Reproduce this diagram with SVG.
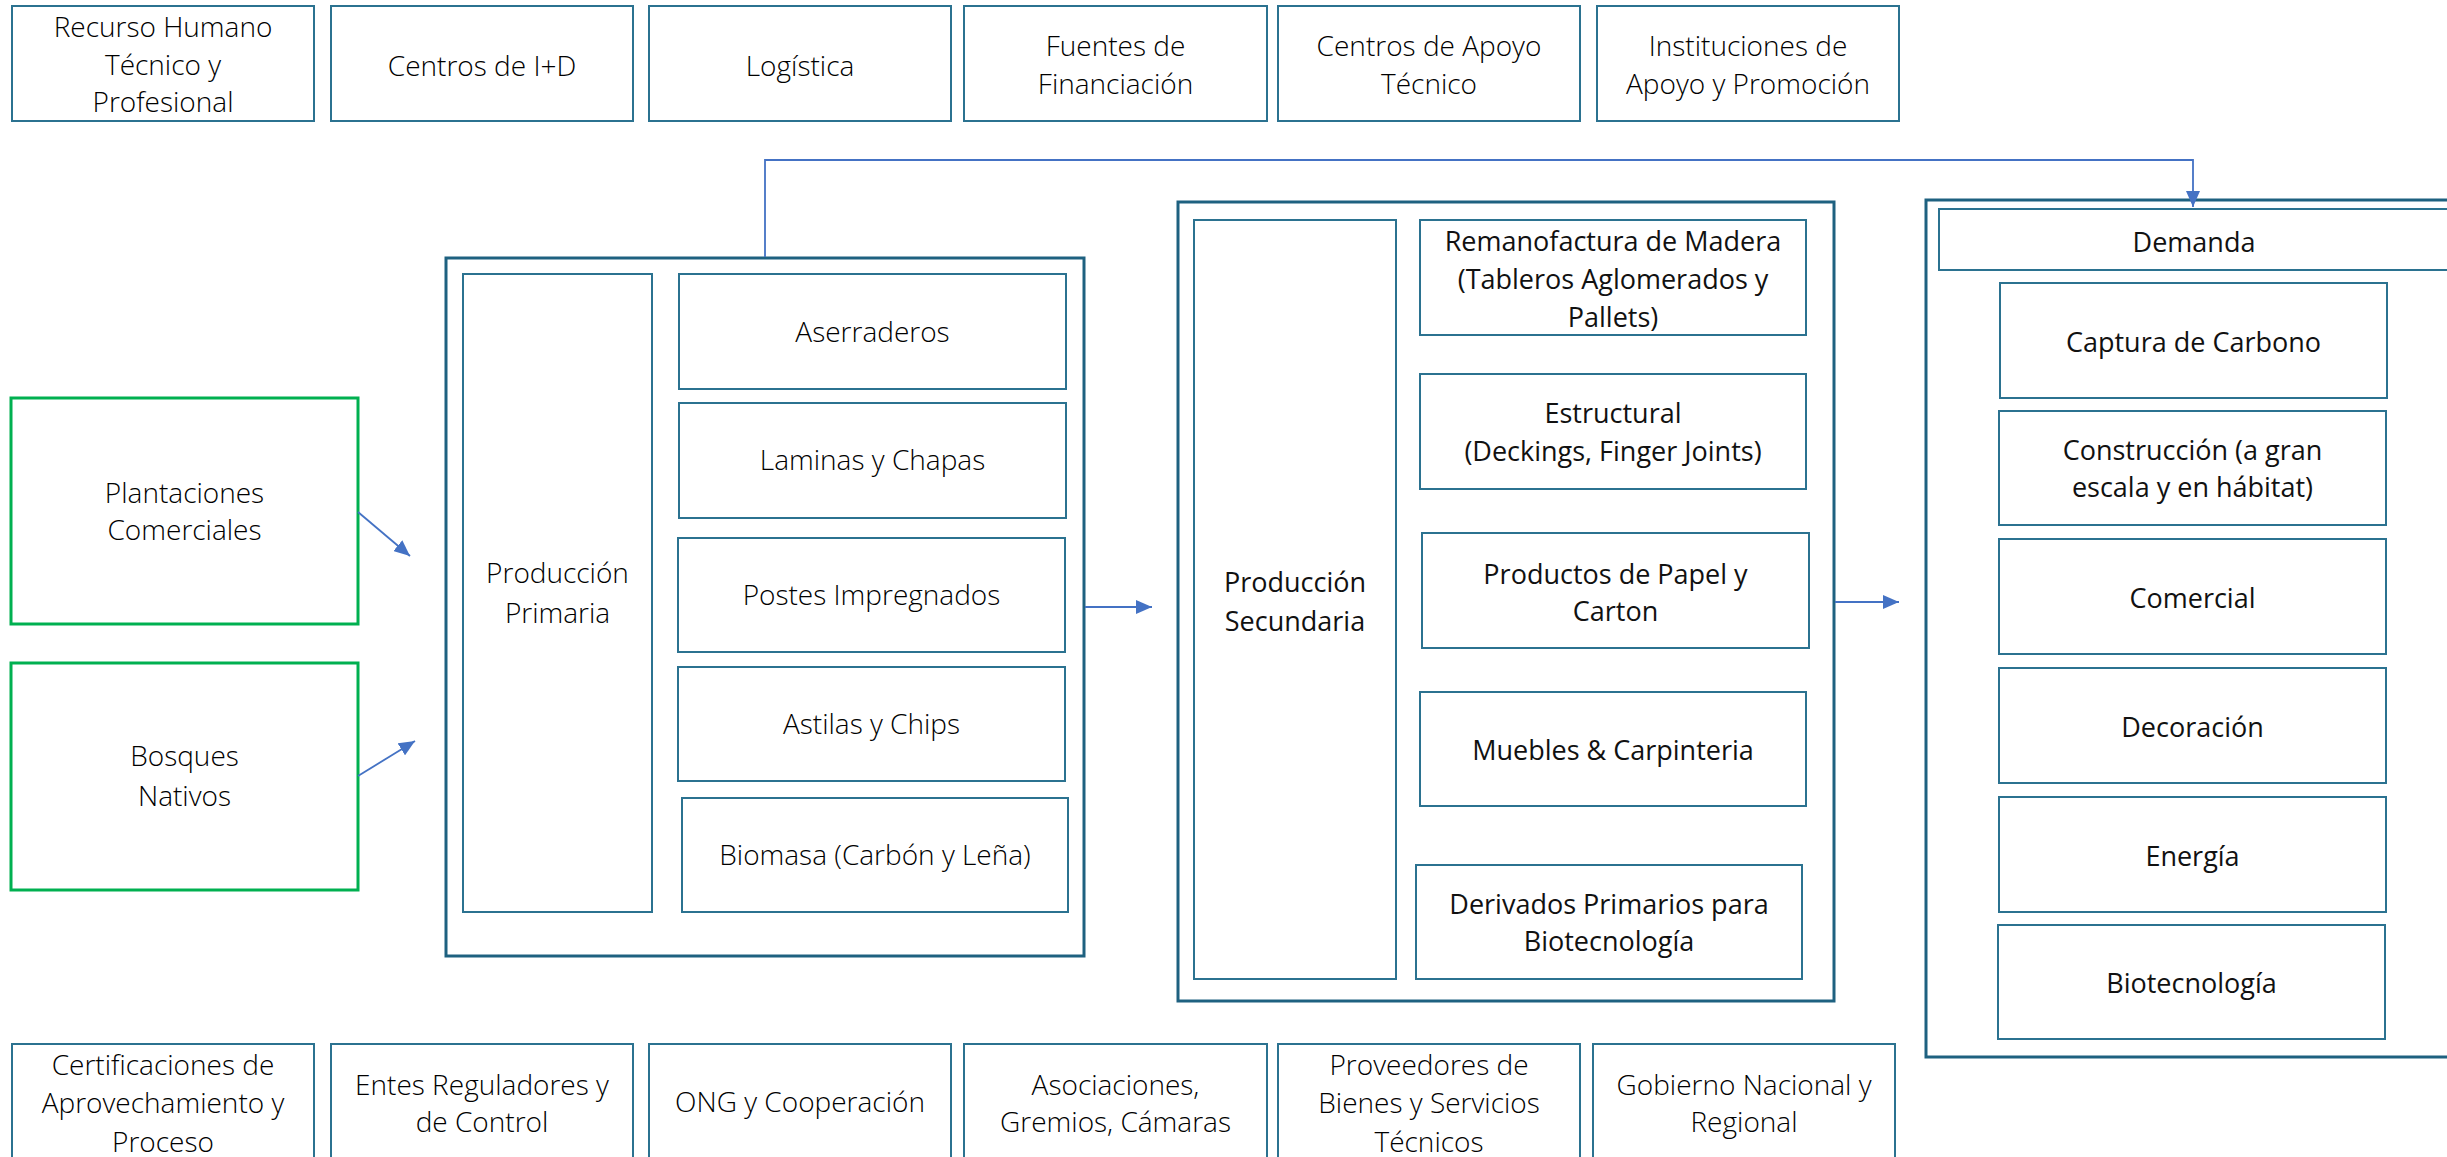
<svg xmlns="http://www.w3.org/2000/svg" width="2447" height="1157" viewBox="0 0 2447 1157">
<style>
.o{fill:#fff;stroke:#1E6180;stroke-width:3}
.b{fill:#fff;stroke:#2B7290;stroke-width:2}
.g{fill:#fff;stroke:#00B050;stroke-width:3}
.c{fill:none;stroke:#4472C4;stroke-width:1.8}
.tl{font-family:"Open Sans","Noto Sans",sans-serif;font-weight:300;font-size:28px;text-anchor:middle;fill:#000}
.tr{font-family:"Open Sans","Noto Sans",sans-serif;font-weight:400;font-size:27px;text-anchor:middle;fill:#111}
</style>
<defs>
<marker id="ah" markerWidth="16" markerHeight="14" refX="16" refY="7" orient="auto" markerUnits="userSpaceOnUse"><path d="M0,0 L16,7 L0,14 z" fill="#4472C4"/></marker>
</defs>
<rect width="2447" height="1157" fill="#fff"/>

<!-- top row -->
<g id="recurso-humano"><rect class="b" x="12" y="6" width="302" height="115"/><text class="tl" x="163" y="37">Recurso Humano</text><text class="tl" x="163" y="75">Técnico y</text><text class="tl" x="163" y="112">Profesional</text></g>
<g id="centros-id"><rect class="b" x="331" y="6" width="302" height="115"/><text class="tl" x="482" y="76">Centros de I+D</text></g>
<g id="logistica"><rect class="b" x="649" y="6" width="302" height="115"/><text class="tl" x="800" y="76">Logística</text></g>
<g id="fuentes"><rect class="b" x="964" y="6" width="303" height="115"/><text class="tl" x="1115.5" y="56">Fuentes de</text><text class="tl" x="1115.5" y="94">Financiación</text></g>
<g id="centros-apoyo"><rect class="b" x="1278" y="6" width="302" height="115"/><text class="tl" x="1429" y="56">Centros de Apoyo</text><text class="tl" x="1429" y="94">Técnico</text></g>
<g id="instituciones"><rect class="b" x="1597" y="6" width="302" height="115"/><text class="tl" x="1748" y="56">Instituciones de</text><text class="tl" x="1748" y="94">Apoyo y Promoción</text></g>

<!-- bottom row -->
<g id="certificaciones"><rect class="b" x="12" y="1044" width="302" height="125"/><text class="tl" x="163" y="1075">Certificaciones de</text><text class="tl" x="163" y="1113">Aprovechamiento y</text><text class="tl" x="163" y="1152">Proceso</text></g>
<g id="entes"><rect class="b" x="331" y="1044" width="302" height="125"/><text class="tl" x="482" y="1095">Entes Reguladores y</text><text class="tl" x="482" y="1132">de Control</text></g>
<g id="ong"><rect class="b" x="649" y="1044" width="302" height="125"/><text class="tl" x="800" y="1112">ONG y Cooperación</text></g>
<g id="asociaciones"><rect class="b" x="964" y="1044" width="303" height="125"/><text class="tl" x="1115.5" y="1095">Asociaciones,</text><text class="tl" x="1115.5" y="1132">Gremios, Cámaras</text></g>
<g id="proveedores"><rect class="b" x="1278" y="1044" width="302" height="125"/><text class="tl" x="1429" y="1075">Proveedores de</text><text class="tl" x="1429" y="1113">Bienes y Servicios</text><text class="tl" x="1429" y="1152">Técnicos</text></g>
<g id="gobierno"><rect class="b" x="1593" y="1044" width="302" height="125"/><text class="tl" x="1744" y="1095">Gobierno Nacional y</text><text class="tl" x="1744" y="1132">Regional</text></g>

<!-- left sources -->
<g id="plantaciones"><rect class="g" x="11" y="398" width="347" height="226"/><text class="tl" x="184.5" y="503">Plantaciones</text><text class="tl" x="184.5" y="540">Comerciales</text></g>
<g id="bosques"><rect class="g" x="11" y="663" width="347" height="227"/><text class="tl" x="184.5" y="766">Bosques</text><text class="tl" x="184.5" y="806">Nativos</text></g>

<!-- primary production -->
<g id="produccion-primaria">
<rect class="o" x="446" y="258" width="638" height="698"/>
<rect class="b" x="463" y="274" width="189" height="638"/>
<text class="tl" x="557.5" y="583">Producción</text><text class="tl" x="557.5" y="623">Primaria</text>
</g>
<g id="aserraderos"><rect class="b" x="679" y="274" width="387" height="115"/><text class="tl" x="872.5" y="342">Aserraderos</text></g>
<g id="laminas"><rect class="b" x="679" y="403" width="387" height="115"/><text class="tl" x="872.5" y="470">Laminas y Chapas</text></g>
<g id="postes"><rect class="b" x="678" y="538" width="387" height="114"/><text class="tl" x="871.5" y="605">Postes Impregnados</text></g>
<g id="astilas"><rect class="b" x="678" y="667" width="387" height="114"/><text class="tl" x="871.5" y="734">Astilas y Chips</text></g>
<g id="biomasa"><rect class="b" x="682" y="798" width="386" height="114"/><text class="tl" x="875" y="865">Biomasa (Carbón y Leña)</text></g>

<!-- secondary production -->
<g id="produccion-secundaria">
<rect class="o" x="1178" y="202" width="656" height="799"/>
<rect class="b" x="1194" y="220" width="202" height="759"/>
<text class="tr" x="1295" y="592">Producción</text><text class="tr" x="1295" y="631">Secundaria</text>
</g>
<g id="remanofactura"><rect class="b" x="1420" y="220" width="386" height="115"/><text class="tr" x="1613" y="251">Remanofactura de Madera</text><text class="tr" x="1613" y="289">(Tableros Aglomerados y</text><text class="tr" x="1613" y="327">Pallets)</text></g>
<g id="estructural"><rect class="b" x="1420" y="374" width="386" height="115"/><text class="tr" x="1613" y="423">Estructural</text><text class="tr" x="1613" y="461">(Deckings, Finger Joints)</text></g>
<g id="papel"><rect class="b" x="1422" y="533" width="387" height="115"/><text class="tr" x="1615.5" y="584">Productos de Papel y</text><text class="tr" x="1615.5" y="621">Carton</text></g>
<g id="muebles"><rect class="b" x="1420" y="692" width="386" height="114"/><text class="tr" x="1613" y="760">Muebles &amp; Carpinteria</text></g>
<g id="derivados"><rect class="b" x="1416" y="865" width="386" height="114"/><text class="tr" x="1609" y="914">Derivados Primarios para</text><text class="tr" x="1609" y="951">Biotecnología</text></g>

<!-- demand -->
<g id="demanda-grupo">
<rect class="o" x="1926" y="200" width="540" height="857"/>
</g>
<g id="demanda"><rect class="b" x="1939" y="209" width="520" height="61"/><text class="tr" x="2194" y="252">Demanda</text></g>
<g id="captura"><rect class="b" x="2000" y="283" width="387" height="115"/><text class="tr" x="2193.5" y="352">Captura de Carbono</text></g>
<g id="construccion"><rect class="b" x="1999" y="411" width="387" height="114"/><text class="tr" x="2192.5" y="460">Construcción (a gran</text><text class="tr" x="2192.5" y="497">escala y en hábitat)</text></g>
<g id="comercial"><rect class="b" x="1999" y="539" width="387" height="115"/><text class="tr" x="2192.5" y="608">Comercial</text></g>
<g id="decoracion"><rect class="b" x="1999" y="668" width="387" height="115"/><text class="tr" x="2192.5" y="737">Decoración</text></g>
<g id="energia"><rect class="b" x="1999" y="797" width="387" height="115"/><text class="tr" x="2192.5" y="866">Energía</text></g>
<g id="biotecnologia"><rect class="b" x="1998" y="925" width="387" height="114"/><text class="tr" x="2191.5" y="993">Biotecnología</text></g>

<!-- connectors -->
<g id="connectors">
<line class="c" x1="358" y1="512" x2="410" y2="556" marker-end="url(#ah)"/>
<line class="c" x1="358" y1="776" x2="415" y2="741" marker-end="url(#ah)"/>
<line class="c" x1="1085" y1="607" x2="1152" y2="607" marker-end="url(#ah)"/>
<line class="c" x1="1835" y1="602" x2="1899" y2="602" marker-end="url(#ah)"/>
<polyline class="c" points="765,257 765,160 2193,160 2193,207" marker-end="url(#ah)"/>
</g>
</svg>
